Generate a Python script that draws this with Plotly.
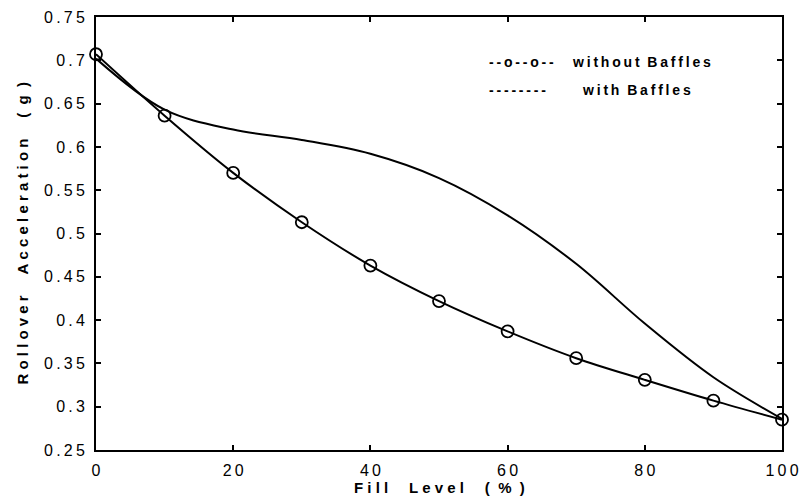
import plotly.graph_objects as go

fill_level = [0, 10, 20, 30, 40, 50, 60, 70, 80, 90, 100]
without_baffles = [0.707, 0.636, 0.570, 0.513, 0.463, 0.422, 0.387, 0.356, 0.331, 0.307, 0.285]
with_baffles = [0.702, 0.643, 0.620, 0.608, 0.592, 0.564, 0.521, 0.465, 0.396, 0.334, 0.286]

x_ticks = [0, 20, 40, 60, 80, 100]
y_ticks = [0.25, 0.3, 0.35, 0.4, 0.45, 0.5, 0.55, 0.6, 0.65, 0.7, 0.75]

TS = "\u2009"  # thin space for letter spacing
NB = "&nbsp;"


def spaced(s, sep=TS):
    return sep.join(list(s))


font = "Liberation Sans"
W, H = 802, 502
L, R, T, B = 96, 20, 17, 52
PW, PH = W - L - R, H - T - B


def px(xp):
    return (xp - L) / PW


def py(yp):
    return (H - B - yp) / PH


fig = go.Figure()
fig.add_trace(go.Scatter(
    x=fill_level, y=with_baffles, mode="lines",
    line=dict(color="black", width=2, shape="spline", smoothing=1.0),
    name="with Baffles", showlegend=False))
fig.add_trace(go.Scatter(
    x=fill_level, y=without_baffles, mode="lines+markers",
    line=dict(color="black", width=2, shape="spline", smoothing=1.0),
    marker=dict(symbol="circle-open", size=12, color="black", line=dict(width=1.8)),
    name="without Baffles", showlegend=False, cliponaxis=False))

legend_font = dict(family=font, size=14, color="black")
fig.add_annotation(xref="paper", yref="paper", x=px(487), y=py(62), xanchor="left", yanchor="middle",
                   text="<b>" + spaced("--o--o--") + "</b>", showarrow=False, font=legend_font)
fig.add_annotation(xref="paper", yref="paper", x=px(570), y=py(62), xanchor="left", yanchor="middle",
                   text="<b>" + spaced("without") + NB * 2 + spaced("Baffles") + "</b>", showarrow=False,
                   font=legend_font)
fig.add_annotation(xref="paper", yref="paper", x=px(487), y=py(90), xanchor="left", yanchor="middle",
                   text="<b>" + spaced("--------") + "</b>", showarrow=False, font=legend_font)
fig.add_annotation(xref="paper", yref="paper", x=px(580), y=py(90), xanchor="left", yanchor="middle",
                   text="<b>" + spaced("with") + NB * 2 + spaced("Baffles") + "</b>", showarrow=False,
                   font=legend_font)

title_font = dict(family=font, size=15, color="black")
fig.add_annotation(xref="paper", yref="paper", x=0.5, y=py(487), xanchor="center", yanchor="middle",
                   text="<b>" + spaced("Fill", NB) + NB * 5 + spaced("Level", NB) + NB * 5
                        + "(" + NB * 2 + "%" + NB * 2 + ")" + "</b>",
                   showarrow=False, font=title_font)
fig.add_annotation(xref="paper", yref="paper", x=px(22), y=0.5, xanchor="center", yanchor="middle",
                   textangle=-90,
                   text="<b>" + spaced("Rollover", NB) + NB * 5 + spaced("Acceleration", NB) + NB * 5
                        + "(" + NB * 2 + "g" + NB * 2 + ")" + "</b>",
                   showarrow=False, font=title_font)

axis_common = dict(showgrid=False, zeroline=False, showline=True, linecolor="black", linewidth=2,
                   mirror="ticks", ticks="inside", ticklen=5, tickcolor="black", tickwidth=1.5,
                   tickfont=dict(family=font, size=16, color="black"), automargin=False)

fig.update_xaxes(range=[0, 100], tickvals=x_ticks, ticktext=[spaced(str(v)) for v in x_ticks],
                 ticklabelstandoff=5, **axis_common)
fig.update_yaxes(range=[0.25, 0.75], tickvals=y_ticks, ticktext=[spaced(f"{v:g}") for v in y_ticks],
                 ticklabelstandoff=6, **axis_common)

fig.update_layout(width=W, height=H, plot_bgcolor="white", paper_bgcolor="white",
                  margin=dict(l=L, r=R, t=T, b=B), showlegend=False)

fig.write_html("out.html", config={"displayModeBar": False},
               post_script="document.body.style.margin='0';document.body.style.padding='0';"
                           "document.documentElement.style.overflow='hidden';"
                           "document.body.style.overflow='hidden';")
